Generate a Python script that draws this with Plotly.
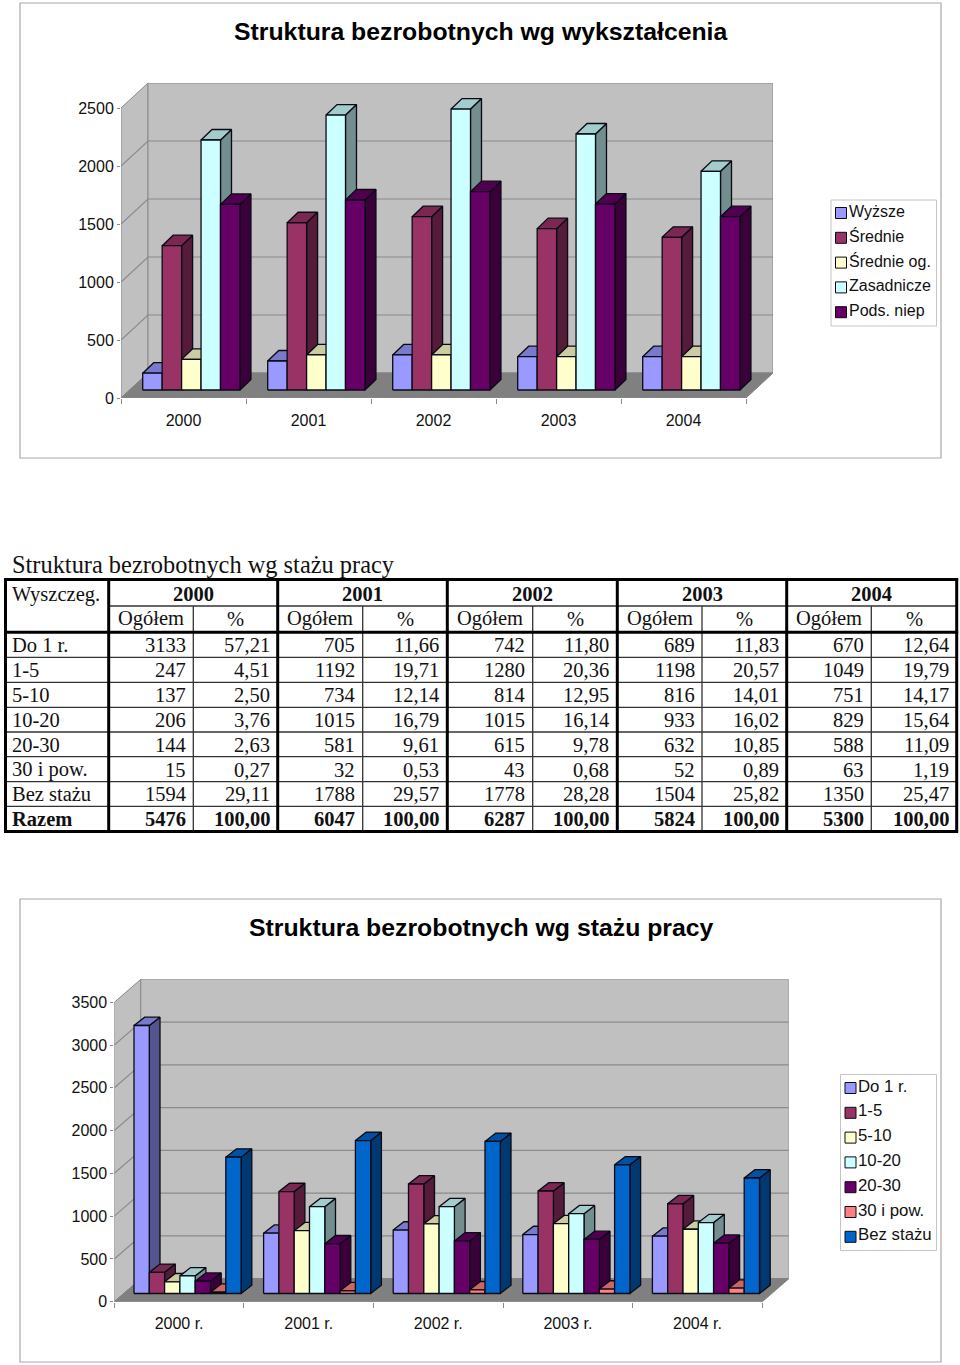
import plotly.graph_objects as go

# ---------- data ----------
YEARS = ["2000", "2001", "2002", "2003", "2004"]
YEARS_R = ["2000 r.", "2001 r.", "2002 r.", "2003 r.", "2004 r."]

EDU_NAMES = ["Wyższe", "Średnie", "Średnie og.", "Zasadnicze", "Pods. niep"]
edu_wyzsze = [145, 250, 302, 287, 287]
edu_srednie = [1244, 1442, 1494, 1391, 1316]
edu_srednie_og = [264, 302, 302, 287, 287]
edu_zasadnicze = [2155, 2370, 2422, 2207, 1885]
edu_pods = [1600, 1638, 1710, 1603, 1494]

STAZ_NAMES = ["Do 1 r.", "1-5", "5-10", "10-20", "20-30", "30 i pow.", "Bez stażu"]
ogolem_2000 = [3133, 247, 137, 206, 144, 15, 1594, 5476]
ogolem_2001 = [705, 1192, 734, 1015, 581, 32, 1788, 6047]
ogolem_2002 = [742, 1280, 814, 1015, 615, 43, 1778, 6287]
ogolem_2003 = [689, 1198, 816, 933, 632, 52, 1504, 5824]
ogolem_2004 = [670, 1049, 751, 829, 588, 63, 1350, 5300]
pct_2000 = ["57,21", "4,51", "2,50", "3,76", "2,63", "0,27", "29,11", "100,00"]
pct_2001 = ["11,66", "19,71", "12,14", "16,79", "9,61", "0,53", "29,57", "100,00"]
pct_2002 = ["11,80", "20,36", "12,95", "16,14", "9,78", "0,68", "28,28", "100,00"]
pct_2003 = ["11,83", "20,57", "14,01", "16,02", "10,85", "0,89", "25,82", "100,00"]
pct_2004 = ["12,64", "19,79", "14,17", "15,64", "11,09", "1,19", "25,47", "100,00"]
TABLE_ROWS = STAZ_NAMES + ["Razem"]

TITLE_1 = "Struktura bezrobotnych wg wykształcenia"
TITLE_2 = "Struktura bezrobotnych wg stażu pracy"
TICKS_1 = [0, 500, 1000, 1500, 2000, 2500]
TICKS_2 = [0, 500, 1000, 1500, 2000, 2500, 3000, 3500]

# ---------- styles ----------
FRONT = ["#9999FF", "#993366", "#FFFFCC", "#CCFFFF", "#660066", "#FF8080", "#0066CC"]
EDU_COLORS = FRONT[:5]
WALL, FLOOR, EDGE = "#C0C0C0", "#808080", "#8A8A8A"
SANS, SERIF = "Liberation Sans", "Liberation Serif"
W, H = 960, 1365


def shade(c, k):
    r, g, b = int(c[1:3], 16), int(c[3:5], 16), int(c[5:7], 16)
    return "#%02X%02X%02X" % (int(r * k), int(g * k), int(b * k))


def px(x):
    return x / W


def py(y):
    return 1 - y / H


fig = go.Figure()
shapes, notes = [], []


def rect(x0, y0, x1, y1, line="#A8A8A8", width=1.2, fill=None):
    shapes.append(dict(type="rect", xref="paper", yref="paper", x0=px(x0), x1=px(x1),
                       y0=py(y0), y1=py(y1), line=dict(color=line, width=width),
                       fillcolor=fill, layer="above"))


def hline(x0, y0, x1, y1, color, width):
    shapes.append(dict(type="line", xref="paper", yref="paper", x0=px(x0), x1=px(x1),
                       y0=py(y0), y1=py(y1), line=dict(color=color, width=width), layer="above"))


def text(x, y, s, size, family=SANS, bold=False, anchor="center", color="#000000"):
    notes.append(dict(xref="paper", yref="paper", x=px(x), y=py(y), text=f"<b>{s}</b>" if bold else s,
                      showarrow=False, xanchor=anchor, yanchor="middle",
                      font=dict(family=family, size=size, color=color), borderpad=0, borderwidth=0,
                      align=anchor))


def chart3d(idx, cats, names, series, colors, ticks, top_value, cfg):
    """Pseudo-3D clustered columns, built with filled scatter polygons on real axes."""
    xa, ya = ("xaxis", "yaxis") if idx == 1 else (f"xaxis{idx}", f"yaxis{idx}")
    xref, yref = ("x", "y") if idx == 1 else (f"x{idx}", f"y{idx}")
    n = len(cats)
    ux, uy = cfg["cat_px"], cfg["val_px"]
    dx, dy = cfg["depth_dx"] / ux, cfg["depth_dy"] / uy
    xmax = n + dx
    ymax = cfg["plot_h"] / uy

    fig.update_layout({
        xa: dict(domain=[px(cfg["x0"]), px(cfg["x0"] + ux * n + cfg["depth_dx"])], range=[0, xmax],
                 anchor=yref, tickvals=[i + 0.5 for i in range(n)], ticktext=cats, ticks="",
                 showgrid=False, zeroline=False, showline=False, automargin=False,
                 tickfont=dict(family=SANS, size=16, color="#111111"), ticklabelstandoff=cfg["xlab"],
                 minor=dict(tickvals=list(range(n + 1)), ticks="outside", ticklen=5, tickcolor=EDGE,
                            tickwidth=1, showgrid=False)),
        ya: dict(domain=[py(cfg["y0"]), py(cfg["y0"] - cfg["plot_h"])], range=[0, ymax], anchor=xref,
                 tickvals=ticks, ticks="outside", ticklen=3, tickcolor=EDGE, showgrid=False,
                 zeroline=False, showline=False, ticklabelstandoff=0, automargin=False,
                 tickfont=dict(family=SANS, size=16, color="#111111")),
    })

    def poly(xs, ys, fill, line=EDGE, lw=1.0):
        fig.add_trace(go.Scatter(x=xs, y=ys, mode="lines", fill="toself", fillcolor=fill,
                                 line=dict(color=line, width=lw), hoverinfo="skip",
                                 showlegend=False, xaxis=xref, yaxis=yref))

    # walls and floor
    poly([0, dx, dx, 0, 0], [0, dy, dy + top_value, top_value, 0], WALL)
    poly([dx, n + dx, n + dx, dx, dx], [dy, dy, dy + top_value, dy + top_value, dy], WALL)
    poly([0, n, n + dx, dx, 0], [0, 0, dy, dy, 0], FLOOR, FLOOR)

    # gridlines along the left wall and the back wall
    gx, gy = [], []
    for t in ticks[1:-1]:
        gx += [0, dx, n + dx, None]
        gy += [t, t + dy, t + dy, None]
    fig.add_trace(go.Scatter(x=gx, y=gy, mode="lines", line=dict(color=EDGE, width=1.2),
                             hoverinfo="skip", showlegend=False, xaxis=xref, yaxis=yref))
    # front edge of the floor
    fig.add_trace(go.Scatter(x=[0, n], y=[0, 0], mode="lines", line=dict(color=EDGE, width=1.2),
                             hoverinfo="skip", showlegend=False, xaxis=xref, yaxis=yref))

    off = cfg["bar_off"] / ux
    bw = cfg["bar_w"] / ux
    bdx, bdy = cfg["bar_dx"] / ux, cfg["bar_dy"] / uy
    base = cfg["bar_base"] / uy
    lw = 1.3
    line_c = "#0A0A14"

    for s, (vals, col) in enumerate(zip(series, colors)):
        fx, fy, tx, ty, sx, sy = [], [], [], [], [], []
        for c in range(n):
            v = vals[c]
            l = c + off + s * bw
            r = l + bw
            b, t = base, base + v
            fx += [l, r, r, l, l, None]
            fy += [b, b, t, t, b, None]
            tx += [l, r, r + bdx, l + bdx, l, None]
            ty += [t, t, t + bdy, t + bdy, t, None]
            sx += [r, r + bdx, r + bdx, r, r, None]
            sy += [b, b + bdy, t + bdy, t, b, None]
        poly(sx, sy, shade(col, 0.56), line_c, lw)
        poly(tx, ty, shade(col, 0.8), line_c, lw)
        poly(fx, fy, col, line_c, lw)

    # chart frame, title, legend
    fx0, fy0, fx1, fy1 = cfg["frame"]
    rect(fx0, fy0, fx1, fy1)
    text((fx0 + fx1) / 2 + 0.5, cfg["title_y"] - 0.5, cfg["title"], 24.8, bold=True)
    lx0, ly0, lx1, ly1 = cfg["legend"]
    rect(lx0, ly0, lx1, ly1, line="#C4C4C4", width=1.0)
    for i, name in enumerate(names):
        y = cfg["leg_y"] + i * cfg["leg_step"]
        sx0 = lx0 + 4.5
        rect(sx0, y - 5.5, sx0 + 11, y + 5.5, line="#0A0A14", width=1.0, fill=colors[i])
        text(sx0 + 13, y - 2, name, cfg["leg_font"], anchor="left", color="#111111")


chart3d(
    1, YEARS, EDU_NAMES,
    [edu_wyzsze, edu_srednie, edu_srednie_og, edu_zasadnicze, edu_pods],
    EDU_COLORS, TICKS_1, 2500,
    dict(x0=121, y0=398, plot_h=315, cat_px=125, val_px=0.116, depth_dx=27, depth_dy=25,
         bar_off=21.7, bar_w=19.45, bar_dx=11, bar_dy=10.5, bar_base=8, xlab=11,
         frame=(20, 3, 941, 458), title=TITLE_1, title_y=32,
         legend=(831, 200, 936.5, 326), leg_y=213, leg_step=24.8, leg_font=16),
)
chart3d(
    2, YEARS_R, STAZ_NAMES,
    [[col[i] for col in (ogolem_2000, ogolem_2001, ogolem_2002, ogolem_2003, ogolem_2004)]
     for i in range(7)],
    FRONT, TICKS_2, 3500,
    dict(x0=114.3, y0=1301.7, plot_h=322.4, cat_px=129.6, val_px=0.08554, depth_dx=26.5, depth_dy=23,
         bar_off=19.7, bar_w=15.3, bar_dx=10.7, bar_dy=8.3, bar_base=8.2, xlab=10,
         frame=(20, 899, 941, 1362), title=TITLE_2, title_y=928,
         legend=(840.5, 1074.5, 936.5, 1250.5), leg_y=1088, leg_step=24.8, leg_font=16.8),
)

# ---------- table ----------
T_SIZE = 20.5
text(12, 564.5, TITLE_2, 24.4, family=SERIF, anchor="left", color="#111111")

col_thick = [5.5, 108.7, 277.7, 447.3, 617.3, 786.7, 956.7]
col_thin = [193.3, 362.7, 532.7, 702, 871.3]
row_thin = [657.3, 682.3, 707.3, 732, 756.7, 781.7, 806.3]
row_y = [645, 670, 695, 720, 745, 769.5, 794, 819]
T_TOP, T_HDR, T_HEAD, T_BOT = 579.5, 606, 632.3, 831.5

for x in col_thin:
    hline(x, T_HDR, x, T_BOT, "#333333", 1.3)
for y in row_thin:
    hline(col_thick[0], y, col_thick[-1], y, "#333333", 1.3)
hline(col_thick[1], T_HDR, col_thick[-1], T_HDR, "#333333", 1.3)
for y in (T_TOP, T_HEAD, T_BOT):
    hline(col_thick[0] - 1.5, y, col_thick[-1] + 1.5, y, "#000000", 3)
for x in col_thick:
    hline(x, T_TOP, x, T_BOT, "#000000", 3)

text(12, 594, "Wyszczeg.", T_SIZE, family=SERIF, anchor="left", color="#111111")
all_og = [ogolem_2000, ogolem_2001, ogolem_2002, ogolem_2003, ogolem_2004]
all_pc = [pct_2000, pct_2001, pct_2002, pct_2003, pct_2004]
for k, year in enumerate(YEARS):
    xl, xm, xr = col_thick[k + 1], col_thin[k], col_thick[k + 2]
    text((xl + xr) / 2, 594, year, T_SIZE, family=SERIF, bold=True, color="#111111")
    text((xl + xm) / 2, 619, "Ogółem", T_SIZE, family=SERIF, color="#111111")
    text((xm + xr) / 2, 619, "%", T_SIZE, family=SERIF, color="#111111")
for r, name in enumerate(TABLE_ROWS):
    bold = name == "Razem"
    text(12, row_y[r], name, T_SIZE, family=SERIF, bold=bold, anchor="left", color="#111111")
    for k in range(5):
        text(col_thin[k] - 7.5, row_y[r], str(all_og[k][r]), T_SIZE, family=SERIF, bold=bold,
             anchor="right", color="#111111")
        text(col_thick[k + 2] - 8, row_y[r], all_pc[k][r], T_SIZE, family=SERIF, bold=bold,
             anchor="right", color="#111111")

fig.update_layout(width=W, height=H, margin=dict(l=0, r=0, t=0, b=0, autoexpand=False), autosize=False,
                  paper_bgcolor="#FFFFFF", plot_bgcolor="rgba(0,0,0,0)", showlegend=False,
                  shapes=shapes, annotations=notes, hovermode=False)
fig.write_html("out.html", config=dict(displayModeBar=False),
               post_script="document.body.style.margin='0';document.documentElement.style.overflow='hidden';")
